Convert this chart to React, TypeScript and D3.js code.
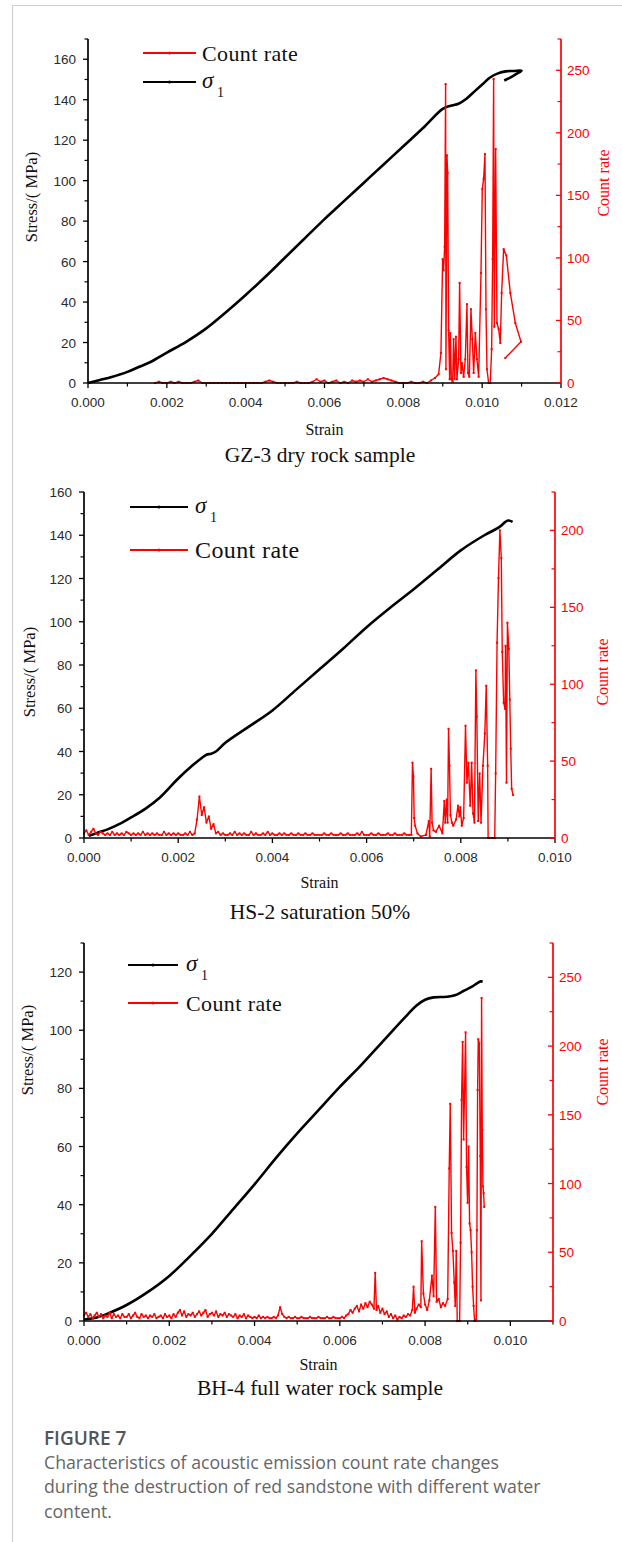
import React, { useEffect } from "react";
import * as d3 from "d3";

const W = 622;
const H = 1542;

// ---------------- GZ-3 dry rock sample ----------------
const gz3StressStrain = [0, 0.0003, 0.0006, 0.001, 0.0013, 0.0016, 0.002, 0.0025, 0.003, 0.0035, 0.004, 0.0045, 0.005, 0.0055, 0.006, 0.0065, 0.007, 0.0075, 0.008, 0.0085, 0.009, 0.0092, 0.0094, 0.0096, 0.0098, 0.01, 0.0102, 0.0104, 0.0106, 0.0108, 0.011, 0.01085, 0.0107, 0.01056];
const gz3Stress = [0, 1.5, 3, 5.5, 8, 10.5, 15, 20.5, 27, 35, 43.5, 52.5, 62, 71.5, 81, 90, 99, 108, 117, 126, 135.5, 137, 138, 140.5, 144, 147.5, 151, 153, 154, 154.2, 154.4, 152.5, 150.8, 149.5];
const gz3NoiseStart = 0.0017;
const gz3NoiseStep = 0.0001;
const gz3Noise = [
  0, 1, 0, 0, 1, 0, 1, 0, 0, 0,
  1, 2, 0, 0, 0, 0, 0, 0, 0, 0,
  0, 0, 0, 0, 0, 0, 0, 0, 1, 2,
  1, 0, 0, 0, 0, 0, 1, 0, 0, 0,
  1, 3, 1, 2, 0, 1, 2, 0, 1, 0,
  2, 1, 2, 1, 3, 1, 2, 3, 4, 3,
  2, 1, 0, 0, 0, 1, 0, 0, 1, 0,
  2, 4,
];
const gz3BurstStrain = [0.008895, 0.008954, 0.008997, 0.009022, 0.009048, 0.009073, 0.009081, 0.009107, 0.009124, 0.009149, 0.009175, 0.009192, 0.009217, 0.009251, 0.009276, 0.009301, 0.009335, 0.00936, 0.009403, 0.009428, 0.009462, 0.009487, 0.00953, 0.009572, 0.009614, 0.00964, 0.009674, 0.009716, 0.00975, 0.009784, 0.009826, 0.009868, 0.009911, 0.00997, 0.010003, 0.010037, 0.010071, 0.010097, 0.010122, 0.010164, 0.010206, 0.01024, 0.010266, 0.010291, 0.010308, 0.010342, 0.010376, 0.010418, 0.01046, 0.010494, 0.010545, 0.010613, 0.010714, 0.010841, 0.010985, 0.010587];
const gz3BurstCount = [7, 24, 99, 90, 109, 239, 11, 182, 168, 42, 3, 40, 3, 1, 35, 3, 37, 3, 19, 80, 8, 16, 5, 19, 63, 8, 5, 59, 35, 8, 40, 19, 5, 88, 155, 163, 183, 59, 11, 0, 0, 27, 99, 243, 45, 187, 48, 43, 32, 72, 107, 102, 72, 48, 33, 20];
const gz3StrainTicks = [0, 0.002, 0.004, 0.006, 0.008, 0.01, 0.012];
const gz3StressTicks = [0, 20, 40, 60, 80, 100, 120, 140, 160];
const gz3CountTicks = [0, 50, 100, 150, 200, 250];

// ---------------- HS-2 saturation 50% ----------------
const hs2StressStrain = [0.0001, 0.0003, 0.0005, 0.0008, 0.001, 0.0013, 0.0016, 0.002, 0.0023, 0.0025, 0.0026, 0.0027, 0.0028, 0.003, 0.0035, 0.004, 0.0045, 0.005, 0.0055, 0.006, 0.0065, 0.007, 0.0075, 0.008, 0.0085, 0.0088, 0.009, 0.0091];
const hs2Stress = [1, 2.5, 4, 7, 9.5, 13.5, 18.5, 27.5, 33.5, 37, 38.5, 39, 40, 44, 51.5, 59, 68.5, 78, 87.5, 97.5, 106.5, 115, 124, 133, 140, 143.5, 146.8, 146.2];
const hs2NoiseStart = 0;
const hs2NoiseStep = 0.00005;
const hs2Noise = [
  3, 5, 2, 4, 6, 3, 2, 4, 3, 2,
  3, 2, 4, 2, 3, 2, 3, 2, 4, 3,
  2, 3, 2, 3, 2, 4, 2, 3, 2, 3,
  2, 3, 2, 2, 4, 2, 3, 2, 3, 2,
  3, 2, 2, 3, 2, 4, 2, 3, 12, 27,
  15, 20, 10, 14, 6, 9, 3, 4, 2, 3,
  2, 2, 3, 2, 4, 2, 3, 2, 3, 2,
  2, 4, 2, 3, 2, 2, 3, 2, 4, 2,
  3, 2, 2, 3, 2, 3, 2, 2, 3, 2,
  2, 3, 2, 2, 3, 2, 2, 3, 2, 2,
  2, 2, 3, 2, 2, 3, 2, 2, 2, 3,
  2, 2, 3, 2, 2, 2, 3, 2, 4, 2,
  2, 2, 3, 2, 2, 3, 2, 2, 2, 3,
  2, 2, 3, 2, 2, 2, 3, 2, 2, 2,
];
const hs2BurstStrain = [0.006974, 0.006995, 0.00701, 0.00703, 0.00708, 0.00715, 0.00726, 0.00732, 0.00734, 0.00737, 0.00739, 0.00742, 0.00747, 0.00754, 0.00761, 0.00765, 0.00767, 0.0077, 0.00772, 0.00774, 0.00776, 0.00778, 0.00781, 0.00784, 0.0079, 0.00794, 0.00797, 0.00799, 0.00802, 0.00806, 0.0081, 0.00813, 0.00816, 0.0082, 0.00823, 0.00826, 0.00829, 0.00832, 0.00834, 0.00837, 0.0084, 0.00843, 0.00847, 0.00851, 0.00854, 0.00857, 0.00858, 0.00872, 0.00874, 0.00877, 0.0088, 0.00883, 0.00886, 0.00888, 0.00891, 0.00894, 0.00895, 0.00897, 0.00899, 0.00902, 0.00904, 0.00906, 0.00908, 0.00911];
const hs2BurstCount = [49, 40, 13, 8, 3, 1, 2, 11, 1, 45, 10, 5, 4, 8, 3, 24, 10, 25, 10, 71, 47, 15, 10, 8, 12, 21, 14, 20, 8, 13, 73, 36, 49, 21, 49, 16, 10, 109, 79, 11, 42, 10, 47, 68, 99, 47, 0, 0, 42, 127, 169, 200, 182, 121, 88, 84, 125, 36, 140, 123, 90, 58, 32, 28];
const hs2StrainTicks = [0, 0.002, 0.004, 0.006, 0.008, 0.01];
const hs2StressTicks = [0, 20, 40, 60, 80, 100, 120, 140, 160];
const hs2CountTicks = [0, 50, 100, 150, 200];

// ---------------- BH-4 full water rock sample ----------------
const bh4StressStrain = [0, 0.0003, 0.0005, 0.001, 0.0015, 0.002, 0.0025, 0.003, 0.0035, 0.004, 0.0045, 0.005, 0.0055, 0.006, 0.0065, 0.007, 0.0075, 0.0078, 0.008, 0.0082, 0.0085, 0.0087, 0.0089, 0.0091, 0.0093, 0.00935];
const bh4Stress = [0.5, 1.2, 2.2, 5.5, 10, 15.5, 22.5, 30, 38.5, 47, 56, 64.5, 72.5, 80.5, 88, 96, 104, 108.5, 110.5, 111.3, 111.5, 112, 113.5, 115, 116.8, 116.7];
const bh4NoiseStart = 0;
const bh4NoiseStep = 0.00005;
const bh4Noise = [
  4, 6, 3, 5, 2, 4, 6, 3, 5, 2,
  4, 3, 6, 2, 5, 3, 4, 2, 5, 3,
  3, 5, 2, 4, 6, 3, 2, 5, 3, 4,
  2, 4, 3, 5, 2, 3, 4, 2, 5, 3,
  4, 2, 5, 3, 6, 8, 4, 7, 3, 5,
  4, 6, 3, 5, 7, 4, 6, 8, 3, 5,
  6, 4, 7, 3, 5, 4, 6, 3, 5, 4,
  3, 5, 2, 4, 3, 5, 2, 4, 3, 2,
  3, 2, 4, 2, 3, 2, 3, 2, 2, 3,
  2, 4, 10, 5, 3, 2, 3, 2, 2, 3,
  2, 2, 3, 2, 2, 2, 3, 2, 2, 2,
  3, 2, 2, 2, 3, 2, 2, 3, 2, 2,
  2, 3, 2, 4, 5, 8, 6, 9, 11, 7,
  12, 9, 13, 10, 14,
];
const bh4BurstStrain = [0.00675, 0.0068, 0.00683, 0.00686, 0.0069, 0.00695, 0.007, 0.00705, 0.0071, 0.00715, 0.0072, 0.00725, 0.0073, 0.00735, 0.0074, 0.00745, 0.0075, 0.00755, 0.0076, 0.00765, 0.0077, 0.00773, 0.00776, 0.0078, 0.00785, 0.0079, 0.00792, 0.00796, 0.008, 0.00805, 0.0081, 0.00816, 0.0082, 0.00824, 0.00827, 0.00832, 0.00837, 0.00842, 0.00847, 0.00853, 0.008566, 0.00859, 0.008621, 0.008652, 0.008684, 0.008707, 0.008731, 0.008754, 0.00881, 0.008832, 0.008856, 0.00888, 0.008903, 0.008926, 0.00895, 0.008973, 0.008997, 0.00902, 0.009044, 0.009067, 0.009091, 0.009114, 0.009138, 0.009161, 0.0092, 0.009216, 0.009232, 0.009247, 0.009271, 0.009294, 0.00931, 0.009325, 0.009341, 0.009357, 0.009372, 0.009388];
const bh4BurstCount = [12, 9, 35, 8, 11, 6, 9, 5, 7, 3, 5, 2, 4, 1, 3, 2, 4, 3, 5, 4, 8, 25, 6, 9, 12, 10, 58, 20, 12, 8, 15, 33, 18, 83, 14, 16, 10, 13, 11, 16, 111, 158, 64, 51, 28, 11, 51, 0, 0, 57, 161, 203, 132, 168, 210, 112, 86, 127, 71, 66, 50, 25, 11, 0, 1, 66, 168, 205, 202, 120, 15, 235, 139, 98, 93, 83];
const bh4StrainTicks = [0, 0.002, 0.004, 0.006, 0.008, 0.01];
const bh4StressTicks = [0, 20, 40, 60, 80, 100, 120];
const bh4CountTicks = [0, 50, 100, 150, 200, 250];

const captionHead = "FIGURE 7";
const captionLines = [
  "Characteristics of acoustic emission count rate changes",
  "during the destruction of red sandstone with different water",
  "content.",
];

const SERIF = "'Liberation Serif', 'Times New Roman', serif";
const SANS = "'Liberation Sans', Arial, sans-serif";
const CAP = "'Open Sans', 'Noto Sans', sans-serif";
const RED = "#ff0000";

type Cfg = {
  title: string;
  left: number; right: number; top: number; bottom: number;
  xMax: number; yLMax: number; yRMax: number;
  stressStrain: number[]; stress: number[];
  noiseStart: number; noiseStep: number; noise: number[];
  burstStrain: number[]; burstCount: number[];
  xTicks: number[]; lTicks: number[]; rTicks: number[];
  legendOrder: ("sigma" | "count")[];
  legY: number[]; legX1: number; legX2: number; legTextX: number; legFont: number;
  stressLabelX: number; stressLabelY: number;
  countLabelX: number; countLabelY: number;
  strainY: number; titleY: number;
};

const panels: Cfg[] = [
  {
    title: "GZ-3 dry rock sample",
    left: 88, right: 561, top: 39, bottom: 383,
    xMax: 0.012, yLMax: 170, yRMax: 275,
    stressStrain: gz3StressStrain, stress: gz3Stress,
    noiseStart: gz3NoiseStart, noiseStep: gz3NoiseStep, noise: gz3Noise,
    burstStrain: gz3BurstStrain, burstCount: gz3BurstCount,
    xTicks: gz3StrainTicks, lTicks: gz3StressTicks, rTicks: gz3CountTicks,
    legendOrder: ["count", "sigma"], legY: [53, 82], legX1: 143, legX2: 196, legTextX: 202, legFont: 22,
    stressLabelX: 37, stressLabelY: 197, countLabelX: 609, countLabelY: 183,
    strainY: 435, titleY: 462,
  },
  {
    title: "HS-2 saturation 50%",
    left: 84, right: 555, top: 492, bottom: 838,
    xMax: 0.010, yLMax: 160, yRMax: 225,
    stressStrain: hs2StressStrain, stress: hs2Stress,
    noiseStart: hs2NoiseStart, noiseStep: hs2NoiseStep, noise: hs2Noise,
    burstStrain: hs2BurstStrain, burstCount: hs2BurstCount,
    xTicks: hs2StrainTicks, lTicks: hs2StressTicks, rTicks: hs2CountTicks,
    legendOrder: ["sigma", "count"], legY: [507, 550], legX1: 130, legX2: 188, legTextX: 195, legFont: 24,
    stressLabelX: 35, stressLabelY: 672, countLabelX: 608, countLabelY: 672,
    strainY: 888, titleY: 919,
  },
  {
    title: "BH-4 full water rock sample",
    left: 84, right: 553, top: 943, bottom: 1321,
    xMax: 0.011, yLMax: 130, yRMax: 275,
    stressStrain: bh4StressStrain, stress: bh4Stress,
    noiseStart: bh4NoiseStart, noiseStep: bh4NoiseStep, noise: bh4Noise,
    burstStrain: bh4BurstStrain, burstCount: bh4BurstCount,
    xTicks: bh4StrainTicks, lTicks: bh4StressTicks, rTicks: bh4CountTicks,
    legendOrder: ["sigma", "count"], legY: [965, 1003], legX1: 128, legX2: 178, legTextX: 186, legFont: 22,
    stressLabelX: 33, stressLabelY: 1050, countLabelX: 608, countLabelY: 1072,
    strainY: 1370, titleY: 1395,
  },
];

function Panel({ c }: { c: Cfg }) {
  const x = d3.scaleLinear().domain([0, c.xMax]).range([c.left, c.right]);
  const yL = d3.scaleLinear().domain([0, c.yLMax]).range([c.bottom, c.top]);
  const yR = d3.scaleLinear().domain([0, c.yRMax]).range([c.bottom, c.top]);

  const stressPts: [number, number][] = c.stressStrain.map((s, i) => [s, c.stress[i]]);
  const countPts: [number, number][] = [
    ...c.noise.map((v, i) => [c.noiseStart + i * c.noiseStep, v] as [number, number]),
    ...c.burstStrain.map((s, i) => [s, c.burstCount[i]] as [number, number]),
  ];
  const stressLine = d3
    .line<[number, number]>()
    .x((d) => x(d[0]))
    .y((d) => yL(d[1]))
    .curve(d3.curveCatmullRom.alpha(0.5));
  const countLine = d3.line<[number, number]>().x((d) => x(d[0])).y((d) => yR(d[1]));

  const xMinor = d3.range(0, c.xMax + 1e-9, 0.001).filter((v) => Math.round(v * 1000) % 2 === 1);
  const lMinor = d3.range(10, c.yLMax + 1e-9, 20);
  const rMinor = d3.range(25, c.yRMax + 1e-9, 50);
  const fmt = d3.format(".3f");

  return (
    <g>
      {/* stress curve */}
      <path d={stressLine(stressPts) || ""} fill="none" stroke="#000" strokeWidth={2.6} strokeLinejoin="round" />
      {/* count rate */}
      <path d={countLine(countPts) || ""} fill="none" stroke={RED} strokeWidth={1.4} strokeLinejoin="round" />
      {countPts.map((d, i) => (
        <rect key={i} x={x(d[0]) - 1} y={yR(d[1]) - 1} width={2} height={2} fill={RED} />
      ))}

      {/* bottom axis */}
      <line x1={c.left} x2={c.right} y1={c.bottom} y2={c.bottom} stroke="#000" strokeWidth={1.7} />
      {c.xTicks.map((t) => (
        <g key={"xt" + t}>
          <line x1={x(t)} x2={x(t)} y1={c.bottom} y2={c.bottom + 5} stroke="#000" strokeWidth={1.3} />
          <text x={x(t)} y={c.bottom + 24} textAnchor="middle" fontFamily={SANS} fontSize={13.5} fill="#2a2a2a">{fmt(t)}</text>
        </g>
      ))}
      {xMinor.map((t) => (
        <line key={"xm" + t} x1={x(t)} x2={x(t)} y1={c.bottom} y2={c.bottom + 3.5} stroke="#000" strokeWidth={1.2} />
      ))}

      {/* left axis */}
      <line x1={c.left} x2={c.left} y1={c.top} y2={c.bottom} stroke="#000" strokeWidth={1.7} />
      {c.lTicks.map((t) => (
        <g key={"lt" + t}>
          <line x1={c.left - 5} x2={c.left} y1={yL(t)} y2={yL(t)} stroke="#000" strokeWidth={1.3} />
          <text x={c.left - 12} y={yL(t) + 5} textAnchor="end" fontFamily={SANS} fontSize={13.5} fill="#2a2a2a">{t}</text>
        </g>
      ))}
      {lMinor.map((t) => (
        <line key={"lm" + t} x1={c.left - 3.5} x2={c.left} y1={yL(t)} y2={yL(t)} stroke="#000" strokeWidth={1.2} />
      ))}

      {/* right axis */}
      <line x1={c.right} x2={c.right} y1={c.top} y2={c.bottom} stroke={RED} strokeWidth={1.7} />
      {c.rTicks.map((t) => (
        <g key={"rt" + t}>
          <line x1={c.right - 5} x2={c.right} y1={yR(t)} y2={yR(t)} stroke={RED} strokeWidth={1.3} />
          <text x={c.right + 6} y={yR(t) + 5} textAnchor="start" fontFamily={SANS} fontSize={13.5} fill={RED}>{t}</text>
        </g>
      ))}
      {rMinor.map((t) => (
        <line key={"rm" + t} x1={c.right - 3.5} x2={c.right} y1={yR(t)} y2={yR(t)} stroke={RED} strokeWidth={1.2} />
      ))}

      {/* axis titles */}
      <text transform={`translate(${c.stressLabelX},${c.stressLabelY}) rotate(-90)`} textAnchor="middle" fontFamily={SERIF} fontSize={16.5} fill="#111">Stress/( MPa)</text>
      <text transform={`translate(${c.countLabelX},${c.countLabelY}) rotate(-90)`} textAnchor="middle" fontFamily={SERIF} fontSize={16} fill={RED}>Count rate</text>
      <text x={(c.left + c.right) / 2} y={c.strainY} textAnchor="middle" fontFamily={SERIF} fontSize={16} fill="#111">Strain</text>
      <text x={320} y={c.titleY} textAnchor="middle" fontFamily={SERIF} fontSize={21.5} fill="#111">{c.title}</text>

      {/* legend */}
      {c.legendOrder.map((k, i) => {
        const ly = c.legY[i];
        const col = k === "count" ? RED : "#000";
        return (
          <g key={k}>
            <line x1={c.legX1} x2={c.legX2} y1={ly} y2={ly} stroke={col} strokeWidth={1.9} />
            <circle cx={(c.legX1 + c.legX2) / 2} cy={ly} r={1.6} fill={col} />
            {k === "count" ? (
              <text x={c.legTextX} y={ly + 8} fontFamily={SERIF} fontSize={c.legFont} letterSpacing={0.4} fill="#111">Count rate</text>
            ) : (
              <g>
                <text x={c.legTextX} y={ly + 6} fontFamily={SERIF} fontStyle="italic" fontSize={23} fill="#111">σ</text>
                <text x={c.legTextX + 15} y={ly + 15} fontFamily={SERIF} fontSize={14} fill="#111">1</text>
              </g>
            )}
          </g>
        );
      })}
    </g>
  );
}

export default function App() {
  useEffect(() => {
    document.body.style.margin = "0";
  }, []);
  return (
    <svg width={W} height={H} viewBox={`0 0 ${W} ${H}`} style={{ display: "block", background: "#fff" }}>
      <rect x={0} y={0} width={W} height={H} fill="#fff" />
      <line x1={12} x2={W} y1={5.5} y2={5.5} stroke="#d0d0d0" strokeWidth={1.2} />
      <line x1={12.5} x2={12.5} y1={5} y2={H} stroke="#d0d0d0" strokeWidth={1.2} />
      {panels.map((c) => (
        <Panel key={c.title} c={c} />
      ))}
      <text x={44} y={1445} fontFamily={CAP} fontWeight={600} fontSize={19} fill="#555">{captionHead}</text>
      {captionLines.map((l, i) => (
        <text key={i} x={44} y={1468.5 + i * 24.5} fontFamily={CAP} fontSize={17.7} fill="#666">{l}</text>
      ))}
    </svg>
  );
}
